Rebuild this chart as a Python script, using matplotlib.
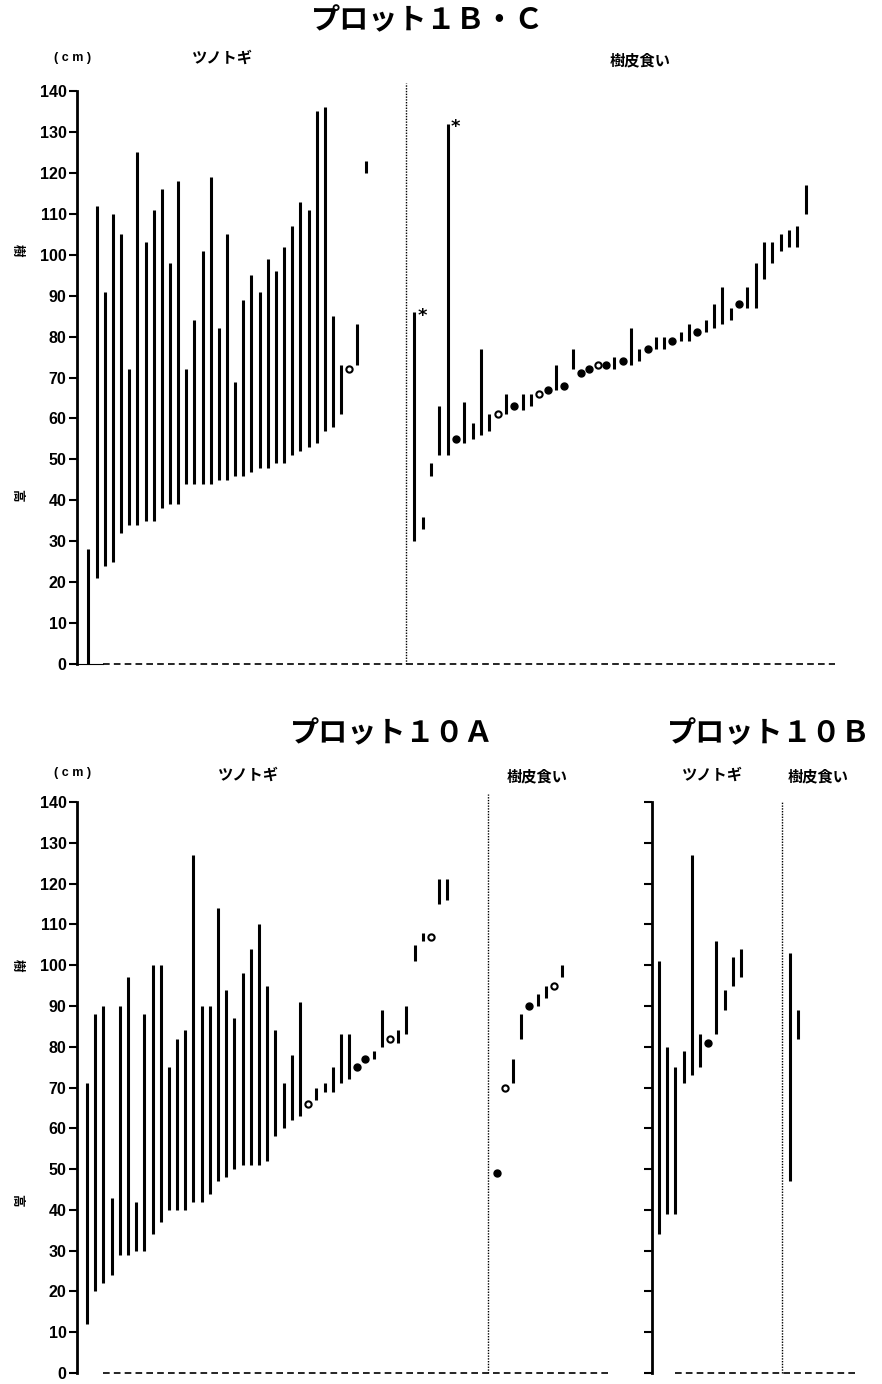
import numpy as np
import matplotlib
matplotlib.use('Agg')
import matplotlib.pyplot as plt

plt.rcParams['font.family'] = ['Noto Sans CJK JP', 'DejaVu Sans']

# プロット1B・C  ツノトギ  (下端, 上端, 種類: b=範囲, o=白丸, f=黒丸)
p1_tsuno_low = [0, 21, 24, 25, 32, 34, 34, 35, 35, 38, 39, 39, 44, 44, 44, 44, 45, 45,
                46, 46, 47, 48, 48, 49, 49, 51, 52, 53, 54, 57, 58, 61, 72, 73, 120]
p1_tsuno_high = [28, 112, 91, 110, 105, 72, 125, 103, 111, 116, 98, 118, 72, 84, 101, 119, 82, 105,
                 69, 89, 95, 91, 99, 96, 102, 107, 113, 111, 135, 136, 85, 73, 72, 83, 123]
p1_tsuno_kind = list('bbbbbbbbbbbbbbbbbbbbbbbbbbbbbbbbobb')

# プロット1B・C  樹皮食い
p1_bark_low = [30, 33, 46, 51, 51, 55, 54, 55, 56, 57, 61, 61, 63, 62, 63, 66, 67, 67, 68, 72,
               71, 72, 73, 73, 72, 74, 73, 74, 77, 77, 77, 79, 79, 79, 81, 81, 82, 83, 84, 88,
               87, 87, 94, 98, 101, 102, 102, 110]
p1_bark_high = [86, 36, 49, 63, 132, 55, 64, 59, 77, 61, 61, 66, 63, 66, 66, 66, 67, 73, 68, 77,
                71, 72, 73, 73, 75, 74, 82, 77, 77, 80, 80, 79, 81, 83, 81, 84, 88, 92, 87, 88,
                92, 98, 103, 103, 105, 106, 107, 117]
p1_bark_kind = list('bbbbbfbbbbobfbbofbfbffofbfbbfbbfbbfbbbbfbbbbbbbb')
p1_bark_star = [0, 4]

# プロット10A  ツノトギ
p10a_tsuno_low = [12, 20, 22, 24, 29, 29, 30, 30, 34, 37, 40, 40, 40, 42, 42, 44, 47, 48, 50, 51,
                  51, 51, 52, 58, 60, 62, 63, 66, 67, 69, 69, 71, 72, 75, 77, 77, 80, 82, 81, 83,
                  101, 106, 107, 115, 116]
p10a_tsuno_high = [71, 88, 90, 43, 90, 97, 42, 88, 100, 100, 75, 82, 84, 127, 90, 90, 114, 94, 87, 98,
                   104, 110, 95, 84, 71, 78, 91, 66, 70, 71, 75, 83, 83, 75, 77, 79, 89, 82, 84, 90,
                   105, 108, 107, 121, 121]
p10a_tsuno_kind = list('bbbbbbbbbbbbbbbbbbbbbbbbbbbobbbbbffbbobbbbobb')

# プロット10A  樹皮食い
p10a_bark_low = [49, 70, 71, 82, 90, 90, 92, 95, 97]
p10a_bark_high = [49, 70, 77, 88, 90, 93, 95, 95, 100]
p10a_bark_kind = list('fobbfbbob')

# プロット10B
p10b_tsuno_low = [34, 39, 39, 71, 73, 75, 81, 83, 89, 95, 97]
p10b_tsuno_high = [101, 80, 75, 79, 127, 83, 81, 106, 94, 102, 104]
p10b_tsuno_kind = list('bbbbbbfbbbb')
p10b_bark_low = [47, 82]
p10b_bark_high = [103, 89]
p10b_bark_kind = list('bb')

W, H = 882, 1384
fig = plt.figure(figsize=(W / 100, H / 100), dpi=100)


def px_axes(x0, x1, y_top, y_bot):
    return fig.add_axes([x0 / W, 1 - y_bot / H, (x1 - x0) / W, (y_bot - y_top) / H])


def style_axes(ax, xlim, labels=True):
    ax.set_xlim(*xlim)
    ax.set_ylim(0, 140)
    for s in ['top', 'right', 'bottom']:
        ax.spines[s].set_visible(False)
    ax.spines['left'].set_linewidth(2)
    ax.set_xticks([])
    ax.set_yticks(np.arange(0, 141, 10))
    ax.tick_params(axis='y', direction='out', length=6, width=1.5, pad=1.5, labelsize=11.5)
    if labels:
        for t in ax.get_yticklabels():
            t.set_fontfamily('Liberation Sans')
            t.set_fontweight('bold')
    else:
        ax.set_yticklabels([])
    ax.patch.set_alpha(0)


def draw_group(ax, xs, low, high, kind):
    for x, lo, hi, k in zip(xs, low, high, kind):
        if k == 'b':
            ax.vlines(x, lo, hi, color='black', lw=2.2, clip_on=False)
        elif k == 'f':
            ax.plot(x, lo, 'o', color='black', ms=5, clip_on=False)
        else:
            ax.plot(x, lo, 'o', mfc='white', mec='black', mew=1.5, ms=4.5, clip_on=False)


def zero_line(ax, x0, x1):
    ax.plot([x0, x1], [0, 0], color='black', lw=1.2, ls=(0, (4, 2.5)), clip_on=False)


def divider(ax, x, top=141):
    ax.plot([x, x], [0, top], color='black', lw=1.0, ls=(0, (1, 1)), clip_on=False)


# ---- 上段 プロット1B・C
ax1 = px_axes(77, 835, 91, 664)
xl1 = (-1.41, 91.6)
style_axes(ax1, xl1)
draw_group(ax1, np.arange(len(p1_tsuno_low)), p1_tsuno_low, p1_tsuno_high, p1_tsuno_kind)
xs_bark = np.linspace(40, 88, len(p1_bark_low))
draw_group(ax1, xs_bark, p1_bark_low, p1_bark_high, p1_bark_kind)
for i in p1_bark_star:
    ax1.annotate('*', (xs_bark[i], p1_bark_high[i]), xytext=(2, -9), textcoords='offset points',
                 fontsize=13, fontweight='bold', ha='left', va='bottom', family='DejaVu Sans')
divider(ax1, 39, 142)
ax1.plot([xl1[0], 1.78], [0, 0], color='black', lw=0.8, clip_on=False)
zero_line(ax1, 1.78, xl1[1])

# ---- 下段 プロット10A
ax2 = px_axes(77, 610, 802, 1373)
xl2 = (-1.22, 63.85)
style_axes(ax2, xl2)
draw_group(ax2, np.arange(len(p10a_tsuno_low)), p10a_tsuno_low, p10a_tsuno_high, p10a_tsuno_kind)
draw_group(ax2, 50 + np.arange(len(p10a_bark_low)), p10a_bark_low, p10a_bark_high, p10a_bark_kind)
divider(ax2, 49, 142)
zero_line(ax2, 1.95, xl2[1])

# ---- 下段 プロット10B
ax3 = px_axes(652, 858, 802, 1373)
xl3 = (-0.85, 24.27)
style_axes(ax3, xl3, labels=False)
draw_group(ax3, np.arange(len(p10b_tsuno_low)), p10b_tsuno_low, p10b_tsuno_high, p10b_tsuno_kind)
draw_group(ax3, 16 + np.arange(len(p10b_bark_low)), p10b_bark_low, p10b_bark_high, p10b_bark_kind)
divider(ax3, 15, 140)
zero_line(ax3, 1.95, xl3[1])


def ftext(x, y, s, **kw):
    fig.text(x / W, 1 - y / H, s, ha='center', va='center', **kw)


# タイトルと見出し
ftext(428, 20, 'プロット１Ｂ・Ｃ', fontsize=21, fontweight='bold')
ftext(392, 733, 'プロット１０Ａ', fontsize=21, fontweight='bold')
ftext(769, 733, 'プロット１０Ｂ', fontsize=21, fontweight='bold')

for y in (58, 773):
    ftext(73, y, '( c m )', fontsize=9, fontweight='bold', family='Liberation Sans')

ftext(222, 58, 'ツノトギ', fontsize=11, fontweight='bold')
ftext(640, 60, '樹皮食い', fontsize=11, fontweight='bold')
ftext(248, 775, 'ツノトギ', fontsize=11, fontweight='bold')
ftext(537, 776, '樹皮食い', fontsize=11, fontweight='bold')
ftext(712, 775, 'ツノトギ', fontsize=11, fontweight='bold')
ftext(818, 776, '樹皮食い', fontsize=11, fontweight='bold')

for y_ju, y_ko in ((250, 495), (965, 1200)):
    ftext(17, y_ju, '樹', fontsize=9, fontweight='bold', rotation=270)
    ftext(17, y_ko, '高', fontsize=9, fontweight='bold', rotation=270)

fig.savefig('out.png', dpi=100)
